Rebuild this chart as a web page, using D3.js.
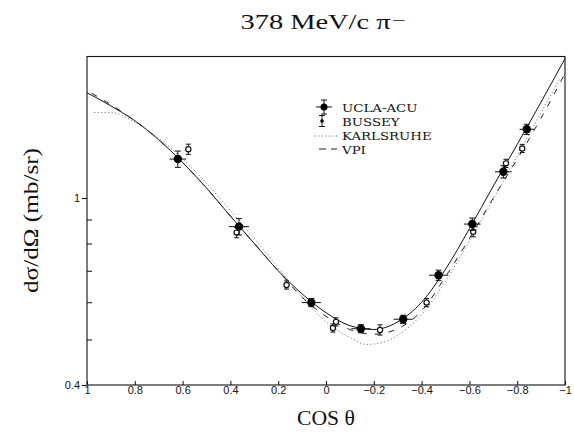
<!DOCTYPE html>
<html><head><meta charset="utf-8">
<script src="https://cdn.jsdelivr.net/npm/d3@7"></script>
<style>body{margin:0;background:#fff}</style>
</head><body><svg id="c" width="574" height="436"></svg>
<script>
// ---- data ----
const uclaCos = [0.62, 0.364, 0.0615, -0.146, -0.323, -0.471, -0.612, -0.742, -0.84];
const uclaVal = [1.21, 0.869, 0.599, 0.527, 0.552, 0.685, 0.88, 1.137, 1.40];
const uclaErr = [0.04, 0.04, 0.02, 0.02, 0.02, 0.025, 0.03, 0.03, 0.025];
const uclaCosErr = [0.035, 0.042, 0.04, 0.04, 0.04, 0.04, 0.035, 0.035, 0.03];

const busCos = [0.576, 0.374, 0.165, -0.029, -0.042, -0.226, -0.421, -0.616, -0.753, -0.821];
const busVal = [1.27, 0.844, 0.653, 0.529, 0.545, 0.524, 0.599, 0.848, 1.185, 1.275];
const busErr = [0.025, 0.025, 0.02, 0.02, 0.02, 0.025, 0.02, 0.025, 0.02, 0.02];

const solidCos = [1.0, 0.9, 0.8, 0.7, 0.6, 0.5, 0.4, 0.3, 0.2, 0.1, 0.0, -0.1, -0.2, -0.3, -0.4, -0.5, -0.6, -0.7, -0.8, -0.9, -1.0];
const solidVal = [1.675, 1.57, 1.46, 1.33, 1.19, 1.05, 0.915, 0.80, 0.70, 0.625, 0.57, 0.535, 0.525, 0.545, 0.60, 0.705, 0.86, 1.06, 1.30, 1.60, 1.98];

const karlCos = [0.97, 0.9, 0.8, 0.7, 0.6, 0.5, 0.4, 0.3, 0.2, 0.1, 0.0, -0.1, -0.17, -0.25, -0.3, -0.4, -0.5, -0.6, -0.7, -0.8, -0.9, -0.98];
const karlVal = [1.52, 1.52, 1.45, 1.34, 1.21, 1.075, 0.94, 0.82, 0.71, 0.615, 0.545, 0.505, 0.488, 0.495, 0.51, 0.565, 0.665, 0.81, 0.995, 1.23, 1.52, 1.80];

const vpiCos = [0.98, 0.9, 0.8, 0.7, 0.6, 0.5, 0.4, 0.3, 0.2, 0.1, 0.0, -0.1, -0.2, -0.3, -0.4, -0.5, -0.6, -0.7, -0.8, -0.9, -1.0];
const vpiVal = [1.67, 1.58, 1.46, 1.33, 1.19, 1.05, 0.915, 0.80, 0.70, 0.615, 0.56, 0.525, 0.513, 0.527, 0.575, 0.68, 0.82, 1.0, 1.21, 1.48, 1.84];

const xTicks = [1, 0.8, 0.6, 0.4, 0.2, 0, -0.2, -0.4, -0.6, -0.8, -1];
const xTickLabels = ["1", "0.8", "0.6", "0.4", "0.2", "0", "\u22120.2", "\u22120.4", "\u22120.6", "\u22120.8", "\u22121"];
const yTicks = [0.4, 1];
const yTickLabels = ["0.4", "1"];
const yMinor = [0.5, 0.6, 0.7, 0.8, 0.9];

const legendNames = ["UCLA-ACU", "BUSSEY", "KARLSRUHE", "VPI"];

// ---- layout ----
const L = 87, R = 565, T = 56.5, B = 385;
const svg = d3.select("#c");
const x = d3.scaleLinear().domain([1, -1]).range([L, R]);
const y = d3.scaleLog().domain([0.4, 2]).range([B, T]);

const serif = "'Liberation Serif', 'Times New Roman', serif";
const slab = "'DejaVu Serif', serif";
const sans = "'Liberation Sans', Arial, sans-serif";

// frame
svg.append("rect").attr("x", L).attr("y", T).attr("width", R - L).attr("height", B - T)
  .attr("fill", "none").attr("stroke", "#111").attr("stroke-width", 1.1);

// x axis
const xa = svg.append("g").attr("transform", `translate(0,${B})`)
  .call(d3.axisBottom(x).tickValues(xTicks).tickSizeInner(-4).tickSizeOuter(0)
    .tickFormat((d, i) => xTickLabels[i]));
xa.select(".domain").remove();
xa.selectAll(".tick line").attr("stroke", "#111");
xa.selectAll(".tick text").attr("y", 8.5).attr("dy", "0")
  .attr("font-family", sans).attr("font-size", 11).attr("fill", "#111");

// y axis major
const ya = svg.append("g").attr("transform", `translate(${L},0)`)
  .call(d3.axisLeft(y).tickValues(yTicks).tickSize(5).tickPadding(2)
    .tickFormat((d, i) => yTickLabels[i]));
ya.select(".domain").remove();
ya.selectAll(".tick line").attr("stroke", "#111");
ya.selectAll(".tick text").attr("font-family", sans).attr("font-size", 11).attr("fill", "#111");
// y axis minor
const ym = svg.append("g").attr("transform", `translate(${L},0)`)
  .call(d3.axisLeft(y).tickValues(yMinor).tickSize(-5).tickFormat(""));
ym.select(".domain").remove();
ym.selectAll(".tick line").attr("stroke", "#111");

// curves
const line = d3.line().x(d => x(d[0])).y(d => y(d[1])).curve(d3.curveMonotoneX);
svg.append("path").datum(solidCos.map((c, i) => [c, solidVal[i]]))
  .attr("d", line).attr("fill", "none").attr("stroke", "#111").attr("stroke-width", 1);
svg.append("path").datum(karlCos.map((c, i) => [c, karlVal[i]]))
  .attr("d", line).attr("fill", "none").attr("stroke", "#666").attr("stroke-width", 1)
  .attr("stroke-dasharray", "1,2.5");
svg.append("path").datum(vpiCos.map((c, i) => [c, vpiVal[i]]))
  .attr("d", line).attr("fill", "none").attr("stroke", "#222").attr("stroke-width", 1)
  .attr("stroke-dasharray", "6,8");

// Bussey points
const bg = svg.append("g");
busCos.forEach((c, i) => {
  const cx = x(c), v = busVal[i], e = busErr[i];
  const y1 = y(v * (1 + e)), y2 = y(v * (1 - e));
  bg.append("line").attr("x1", cx).attr("x2", cx).attr("y1", y1).attr("y2", y2).attr("stroke", "#111");
  bg.append("line").attr("x1", cx - 2.5).attr("x2", cx + 2.5).attr("y1", y1).attr("y2", y1).attr("stroke", "#111");
  bg.append("line").attr("x1", cx - 2.5).attr("x2", cx + 2.5).attr("y1", y2).attr("y2", y2).attr("stroke", "#111");
  bg.append("circle").attr("cx", cx).attr("cy", y(v)).attr("r", 2.6)
    .attr("fill", "#fff").attr("stroke", "#111").attr("stroke-width", 1.2);
});

// UCLA points
const ug = svg.append("g");
uclaCos.forEach((c, i) => {
  const cx = x(c), v = uclaVal[i], e = uclaErr[i], cy = y(v);
  const y1 = y(v * (1 + e)), y2 = y(v * (1 - e));
  ug.append("line").attr("x1", cx).attr("x2", cx).attr("y1", y1).attr("y2", y2).attr("stroke", "#111");
  ug.append("line").attr("x1", cx - 3).attr("x2", cx + 3).attr("y1", y1).attr("y2", y1).attr("stroke", "#111");
  ug.append("line").attr("x1", cx - 3).attr("x2", cx + 3).attr("y1", y2).attr("y2", y2).attr("stroke", "#111");
  ug.append("line").attr("x1", x(c + uclaCosErr[i])).attr("x2", x(c - uclaCosErr[i]))
    .attr("y1", cy).attr("y2", cy).attr("stroke", "#111");
  ug.append("circle").attr("cx", cx).attr("cy", cy).attr("r", 4.2).attr("fill", "#000");
});

// legend
const lg = svg.append("g");
const lx = 342, lb = [112, 126, 140, 154];
legendNames.forEach((n, i) => {
  const t = lg.append("text").attr("x", lx).attr("y", lb[i]).text(n)
    .attr("font-family", slab).attr("font-size", 11.8).attr("fill", "#111");
  const w = t.node().getComputedTextLength();
  t.attr("textLength", w * 1.13).attr("lengthAdjust", "spacingAndGlyphs");
});
// UCLA symbol
{
  const sx = 324, sy = 107;
  lg.append("line").attr("x1", sx).attr("x2", sx).attr("y1", sy - 7).attr("y2", sy + 7).attr("stroke", "#111");
  lg.append("line").attr("x1", sx - 3).attr("x2", sx + 3).attr("y1", sy - 7).attr("y2", sy - 7).attr("stroke", "#111");
  lg.append("line").attr("x1", sx - 3).attr("x2", sx + 3).attr("y1", sy + 7).attr("y2", sy + 7).attr("stroke", "#111");
  lg.append("line").attr("x1", sx - 8).attr("x2", sx + 8).attr("y1", sy).attr("y2", sy).attr("stroke", "#111");
  lg.append("circle").attr("cx", sx).attr("cy", sy).attr("r", 3.5).attr("fill", "#000");
}
// Bussey symbol
{
  const sx = 322, sy = 121;
  lg.append("line").attr("x1", sx).attr("x2", sx).attr("y1", sy - 5.5).attr("y2", sy + 5.5).attr("stroke", "#111");
  lg.append("line").attr("x1", sx - 3).attr("x2", sx + 3).attr("y1", sy - 5.5).attr("y2", sy - 5.5).attr("stroke", "#111");
  lg.append("line").attr("x1", sx - 3).attr("x2", sx + 3).attr("y1", sy + 5.5).attr("y2", sy + 5.5).attr("stroke", "#111");
  lg.append("circle").attr("cx", sx).attr("cy", sy).attr("r", 1.8).attr("fill", "#000");
}
lg.append("line").attr("x1", 315).attr("x2", 338).attr("y1", 136).attr("y2", 136)
  .attr("stroke", "#666").attr("stroke-dasharray", "1,2.5");
lg.append("line").attr("x1", 319).attr("x2", 337).attr("y1", 149).attr("y2", 149)
  .attr("stroke", "#222").attr("stroke-dasharray", "7,5");

// titles
svg.append("text").attr("x", 240.5).attr("y", 28.5).text("378 MeV/c \u03c0")
  .attr("font-family", serif).attr("font-size", 21).attr("fill", "#111")
  .attr("textLength", 150).attr("lengthAdjust", "spacingAndGlyphs");
svg.append("text").attr("x", 392).attr("y", 25).text("\u2212")
  .attr("font-family", serif).attr("font-size", 14).attr("fill", "#111")
  .attr("textLength", 14).attr("lengthAdjust", "spacingAndGlyphs");

svg.append("text").attr("transform", "translate(38,220.5) rotate(-90)")
  .attr("text-anchor", "middle").text("d\u03c3/d\u03a9 (mb/sr)")
  .attr("font-family", serif).attr("font-size", 21).attr("fill", "#111")
  .attr("textLength", 145).attr("lengthAdjust", "spacingAndGlyphs");

svg.append("text").attr("x", 326).attr("y", 425).attr("text-anchor", "middle")
  .text("COS \u03b8").attr("font-family", serif).attr("font-size", 20).attr("fill", "#111")
  .attr("textLength", 58).attr("lengthAdjust", "spacingAndGlyphs");
</script>
</body></html>
